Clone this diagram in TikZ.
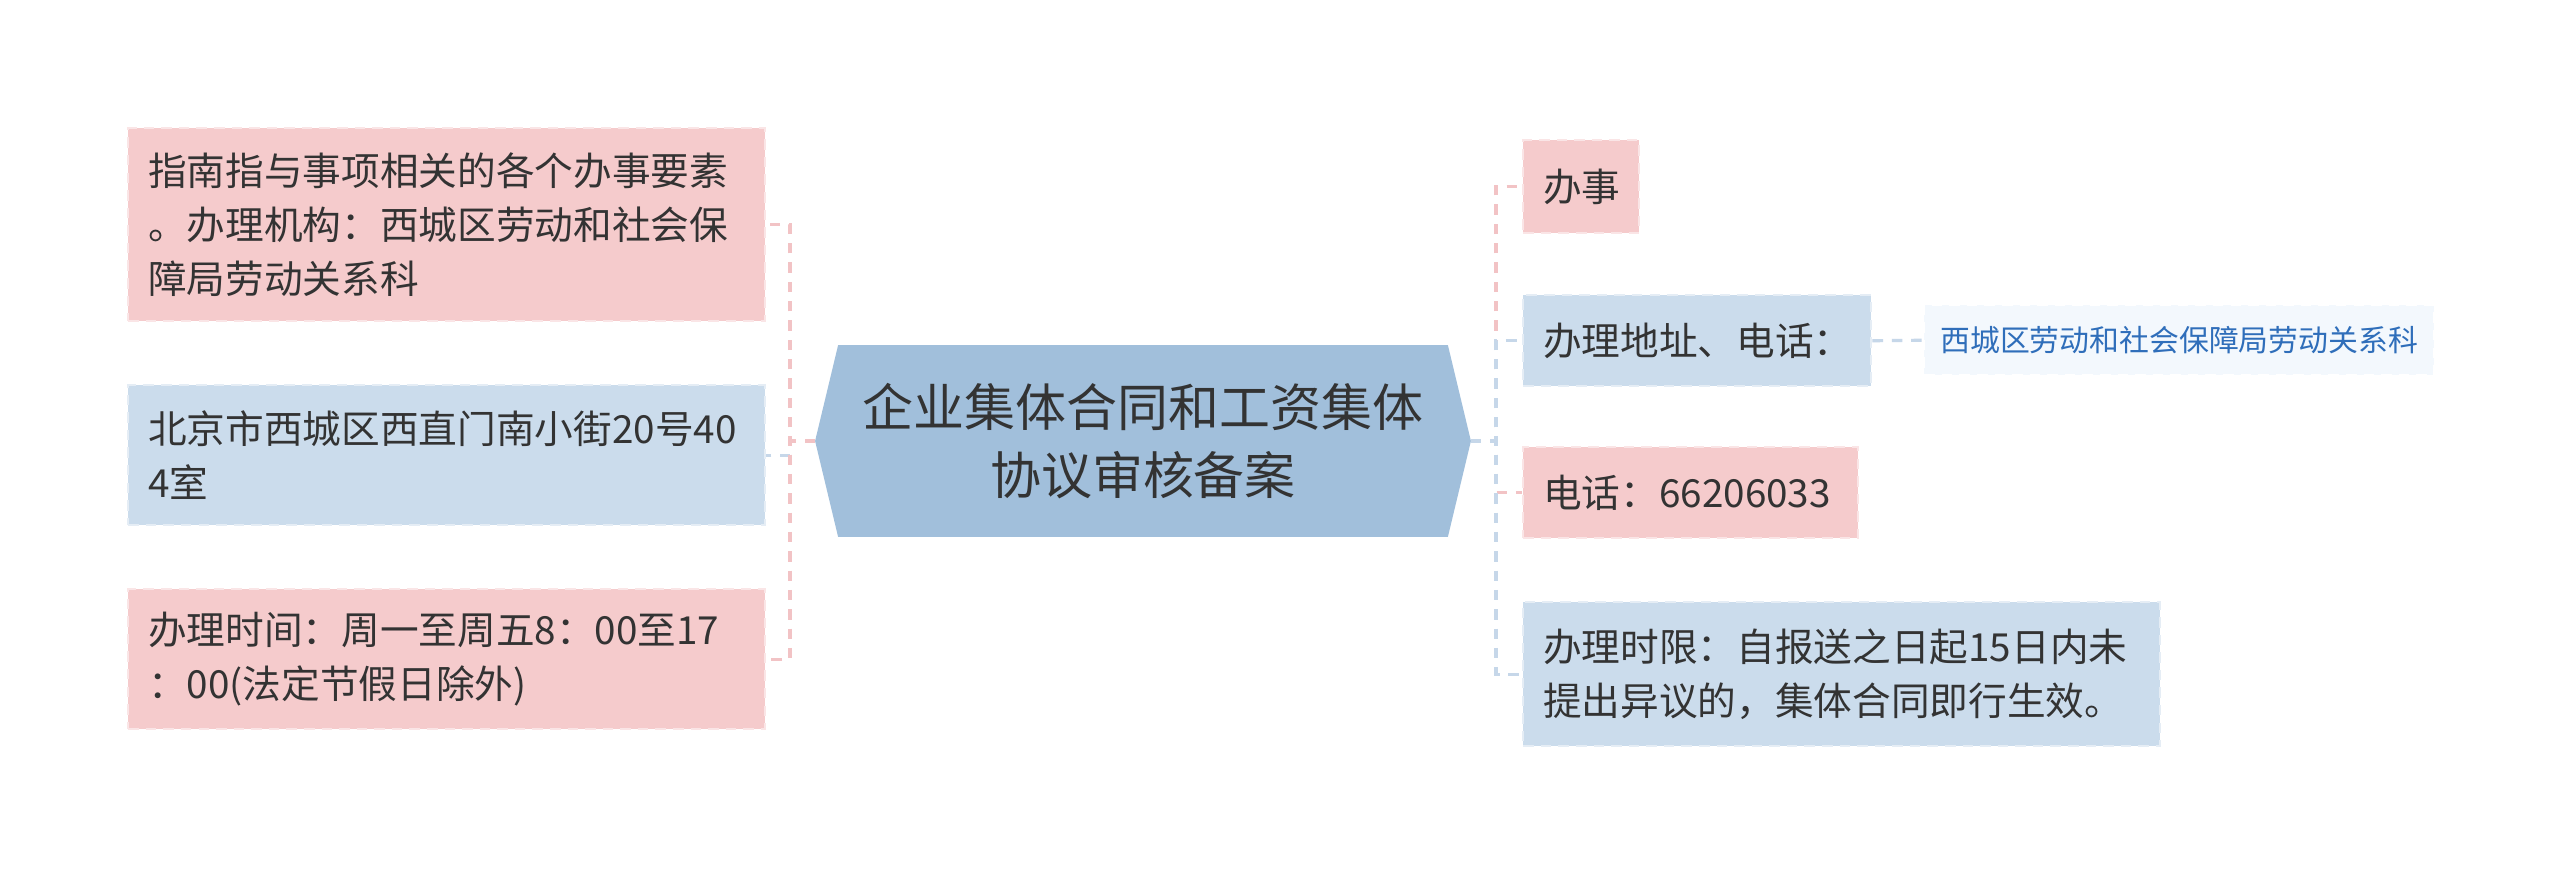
\documentclass[tikz,border=0pt]{standalone}
\usepackage{fontspec}
\newfontfamily\cjk{Noto Sans CJK SC}
\usepackage{tikz}
\usetikzlibrary{positioning,shapes.symbols}
\definecolor{cPink}{HTML}{F5CBCC}
\definecolor{cBlue}{HTML}{CBDCEC}
\definecolor{cCore}{HTML}{A1BFDB}
\definecolor{cLeaf}{HTML}{F3F8FD}
\definecolor{cInk}{HTML}{333333}
\definecolor{cLink}{HTML}{2F6EBA}
\definecolor{cPinkL}{HTML}{F2C3C5}
\definecolor{cBlueL}{HTML}{C6D7E9}
\tikzset{
  topic/.style={draw=white!50!#1,fill=#1,dash pattern=on 3pt off 2pt,line width=0.7pt,anchor=north west,align=left,
    inner xsep=0.2cm,inner ysep=0pt,text=cInk,font=\cjk\fontsize{11}{15.4}\selectfont},
  topic/.default=cPink,
  core/.style={signal,signal to=west and east,signal pointer angle=153,draw=cCore,fill=cCore,line width=0.5pt,
    align=center,text=cInk,inner sep=0pt,font=\cjk\fontsize{14.5}{19.5}\selectfont},
  leaf/.style={draw=white,fill=cLeaf,dash pattern=on 3pt off 2pt,line width=0.7pt,anchor=north west,
    inner xsep=0.15cm,text=cLink,font=\cjk\fontsize{8.5}{11}\selectfont},
  lnk/.style={draw=#1,line width=0.9pt,dash pattern=on 3pt off 2.5pt},
}
\begin{document}
\begin{tikzpicture}[x=1cm,y=1cm]
  \useasboundingbox[fill=white] (0,0) rectangle (25.6,-8.71);
  % central topic
  \node[core,minimum width=6.54cm,minimum height=1.9cm] (ctr) at (11.43,-4.41) {企业集体合同和工资集体\\协议审核备案};
  % left branches
  \node[topic=cPink,minimum width=6.37cm,minimum height=1.93cm,text width=5.97cm] (l1) at (1.27,-1.27)
    {指南指与事项相关的各个办事要素\\。办理机构：西城区劳动和社会保\\障局劳动关系科};
  \node[topic=cBlue,minimum width=6.37cm,minimum height=1.40cm,text width=5.97cm] (l2) at (1.27,-3.84)
    {北京市西城区西直门南小街20号40\\4室};
  \node[topic=cPink,minimum width=6.37cm,minimum height=1.40cm,text width=5.97cm] (l3) at (1.27,-5.88)
    {办理时间：周一至周五8：00至17\\：00(法定节假日除外)};
  % right branches
  \node[topic=cPink,minimum width=1.16cm,minimum height=0.93cm,text width=0.76cm] (r1) at (15.22,-1.39) {办事};
  \node[topic=cBlue,minimum width=3.48cm,minimum height=0.91cm,text width=3.08cm] (r2) at (15.22,-2.94) {办理地址、电话：};
  \node[leaf,minimum width=5.10cm,minimum height=0.70cm] (r2c) at (19.23,-3.04) {西城区劳动和社会保障局劳动关系科};
  \node[topic=cPink,minimum width=3.35cm,minimum height=0.91cm,text width=2.95cm] (r3) at (15.22,-4.46) {电话：66206033};
  \node[topic=cBlue,minimum width=6.37cm,minimum height=1.44cm,text width=5.97cm] (r4) at (15.22,-6.01)
    {办理时限：自报送之日起15日内未\\提出异议的，集体合同即行生效。};
  % spines
  \coordinate (lsp) at (7.90,-4.41);
  \coordinate (rsp) at (14.96,-4.41);
  % connectors (drawn in stacking order)
  \draw[lnk=cBlueL] (ctr.west) -- (lsp) |- (l2.east);
  \draw[lnk=cPinkL] (ctr.west) -- (lsp) |- (l1.east);
  \draw[lnk=cPinkL] (ctr.west) -- (lsp) |- (l3.east);
  \draw[lnk=cPinkL] (ctr.east) -- (rsp) |- (r1.west);
  \draw[lnk=cBlueL] (ctr.east) -- (rsp) |- (r2.west);
  \draw[lnk=cPinkL] (ctr.east) -- (rsp) |- (r3.west);
  \draw[lnk=cBlueL] (ctr.east) -- (rsp) |- (r4.west);
  \draw[lnk=cBlueL] (r2.east) -- (r2c.west);
\end{tikzpicture}
\end{document}
